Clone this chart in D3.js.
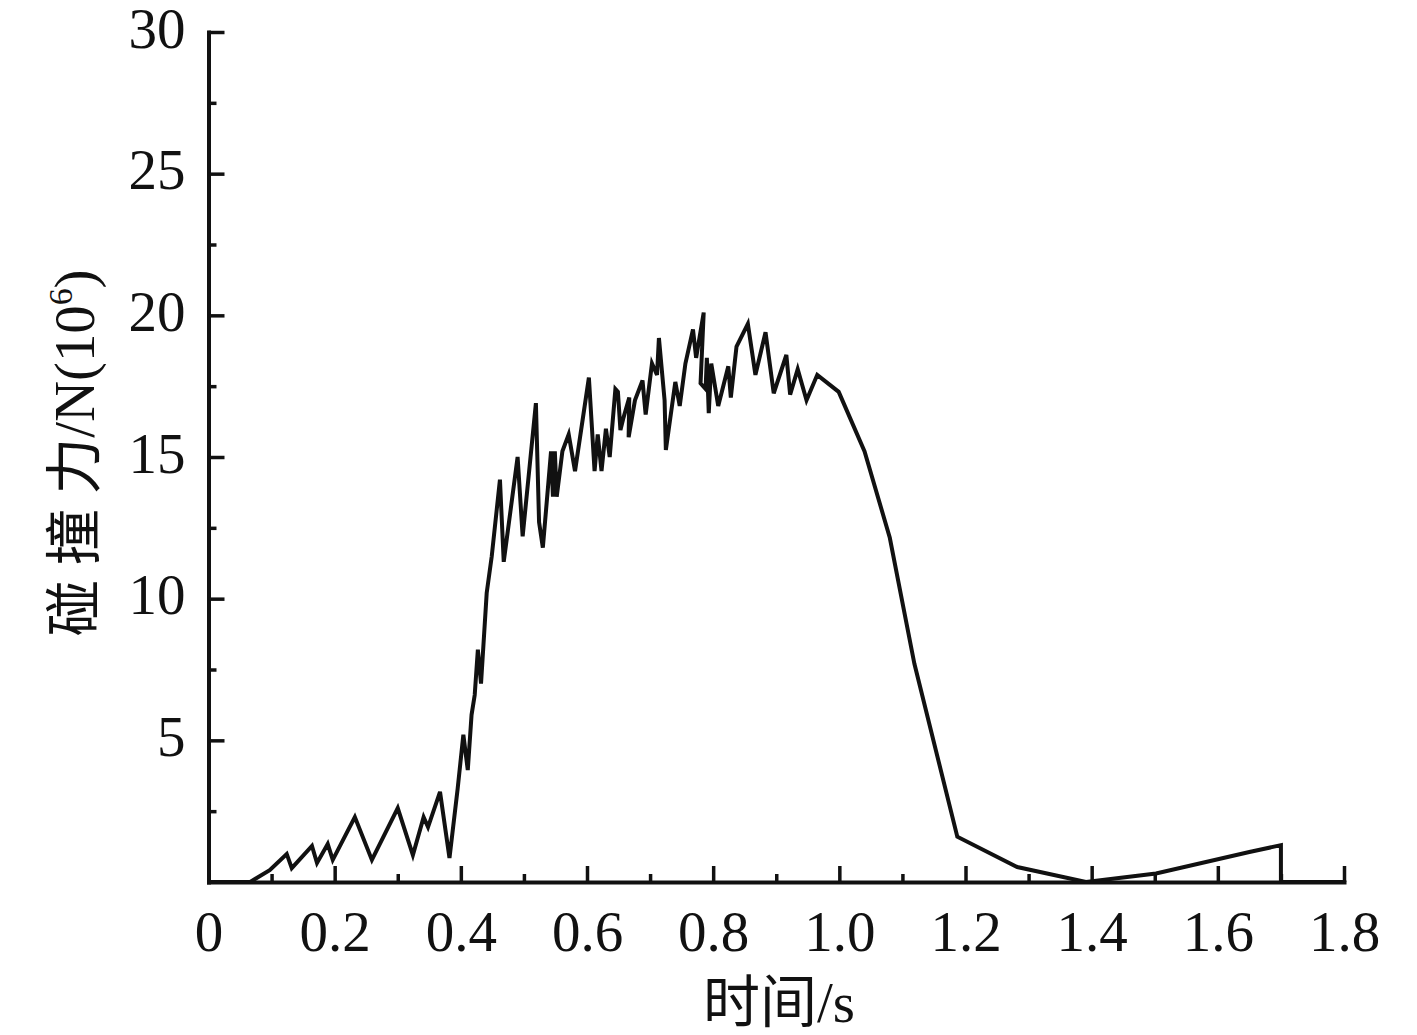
<!DOCTYPE html>
<html>
<head>
<meta charset="utf-8">
<script src="https://cdn.jsdelivr.net/npm/d3@7"></script>
<style>
  body { margin: 0; background: #fff; }
  svg { display: block; }
  text { font-family: "Liberation Serif", "Noto Sans CJK SC", serif; fill: #111; }
</style>
</head>
<body>
<div data-output></div>
<script>
// time (s) and impact force (10^6 N)
const times = [
  0, 0.066, 0.097, 0.124, 0.132, 0.164, 0.172, 0.189, 0.197, 0.232,
  0.259, 0.300, 0.324, 0.341, 0.348, 0.367, 0.382, 0.395, 0.404, 0.411,
  0.417, 0.422, 0.427, 0.432, 0.441, 0.449, 0.462, 0.468, 0.490, 0.498,
  0.519, 0.524, 0.530, 0.543, 0.546, 0.549, 0.552, 0.561, 0.571, 0.581,
  0.603, 0.612, 0.617, 0.623, 0.630, 0.636, 0.645, 0.649, 0.653, 0.658,
  0.667, 0.666, 0.676, 0.688, 0.693, 0.703, 0.711, 0.714, 0.723, 0.725,
  0.740, 0.747, 0.756, 0.768, 0.773, 0.785, 0.780, 0.788, 0.790, 0.793,
  0.797, 0.808, 0.824, 0.828, 0.837, 0.855, 0.867, 0.883, 0.896, 0.916,
  0.922, 0.934, 0.948, 0.965, 0.999, 1.040, 1.080, 1.119, 1.187, 1.282,
  1.391, 1.502, 1.650, 1.700, 1.700, 1.800
];
const force = [
  0, 0, 0.42, 0.99, 0.49, 1.27, 0.67, 1.34, 0.78, 2.29,
  0.78, 2.61, 0.95, 2.29, 1.94, 3.18, 0.85, 3.3, 5.2, 3.95,
  5.9, 6.6, 8.2, 7.0, 10.2, 11.5, 14.2, 11.3, 15.0, 12.2,
  16.9, 12.7, 11.8, 15.2, 13.6, 15.2, 13.6, 15.2, 15.8, 14.5,
  17.8, 14.5, 15.8, 14.5, 16.0, 15.0, 17.4, 17.3, 15.95, 16.4,
  17.1, 15.7, 17.0, 17.7, 16.5, 18.3, 17.9, 19.2, 17.0, 15.25,
  17.65, 16.8, 18.3, 19.5, 18.5, 20.1, 17.6, 17.4, 18.5, 16.55,
  18.3, 16.8, 18.2, 17.1, 18.9, 19.7, 17.9, 19.4, 17.25, 18.6,
  17.2, 18.1, 17.0, 17.9, 17.3, 15.2, 12.15, 7.7, 1.6, 0.53,
  0.0, 0.3, 1.06, 1.3, 0, 0
];

const xTicks = [0, 0.2, 0.4, 0.6, 0.8, 1.0, 1.2, 1.4, 1.6, 1.8];
const xTickLabels = ['0', '0.2', '0.4', '0.6', '0.8', '1.0', '1.2', '1.4', '1.6', '1.8'];
const xMinor = [0.1, 0.3, 0.5, 0.7, 0.9, 1.1, 1.3, 1.5, 1.7];
const yTicks = [5, 10, 15, 20, 25, 30];
const yMinor = [2.5, 7.5, 12.5, 17.5, 22.5, 27.5];

const xTitle = '时间/s';

const SIZE = { WIDTH: 1417, HEIGHT: 1035 };
const plot = { left: 208.5, right: 1344, top: 32, bottom: 882 };

const svg = d3.select('[data-output]').append('svg')
  .attr('width', SIZE.WIDTH)
  .attr('height', SIZE.HEIGHT);

const x = d3.scaleLinear().domain([0, 1.8]).range([plot.left, plot.right]);
const y = d3.scaleLinear().domain([0, 30]).range([plot.bottom, plot.top]);

const data = times.map((t, i) => ({ x: t, y: force[i] }));

const line = d3.line()
  .x(d => x(d.x))
  .y(d => y(d.y));

svg.append('path')
  .datum(data)
  .attr('fill', 'none')
  .attr('stroke', '#111')
  .attr('stroke-width', 4)
  .attr('stroke-linejoin', 'miter')
  .attr('d', line);

// minor ticks first, then major axes on top
svg.append('g')
  .attr('transform', `translate(0, ${plot.bottom})`)
  .call(d3.axisBottom(x).tickValues(xMinor).tickSize(-8).tickSizeOuter(0).tickFormat(''))
  .call(g => g.select('.domain').remove());

svg.append('g')
  .attr('transform', `translate(${plot.left}, 0)`)
  .call(d3.axisLeft(y).tickValues(yMinor).tickSize(-8).tickSizeOuter(0).tickFormat(''))
  .call(g => g.select('.domain').remove());

const xAxis = svg.append('g')
  .attr('transform', `translate(0, ${plot.bottom})`)
  .call(d3.axisBottom(x)
    .tickValues(xTicks)
    .tickSize(-16)
    .tickSizeOuter(0)
    .tickFormat((d, i) => xTickLabels[i]));

xAxis.selectAll('text')
  .attr('y', 69)
  .attr('dy', null)
  .attr('font-size', 57);

const yAxis = svg.append('g')
  .attr('transform', `translate(${plot.left}, 0)`)
  .call(d3.axisLeft(y)
    .tickValues(yTicks)
    .tickSize(-16)
    .tickSizeOuter(0)
    .tickPadding(23)
    .tickFormat(d3.format('d')));

yAxis.selectAll('text')
  .attr('dy', 15)
  .attr('font-size', 57);

svg.selectAll('.domain')
  .attr('stroke', '#111')
  .attr('stroke-width', 4)
  .attr('stroke-linecap', 'square');
svg.selectAll('.tick line')
  .attr('stroke', '#111')
  .attr('stroke-width', 3.5);
svg.selectAll('.tick text')
  .attr('fill', '#111')
  .attr('font-family', '"Liberation Serif", serif');

// axis titles
svg.append('text')
  .attr('x', 779)
  .attr('y', 1022)
  .attr('text-anchor', 'middle')
  .attr('font-size', 57)
  .text(xTitle);

const yTitle = svg.append('text')
  .attr('transform', 'translate(94, 453) rotate(-90)')
  .attr('text-anchor', 'middle')
  .attr('font-size', 57)
  .attr('textLength', 367)
  .attr('lengthAdjust', 'spacingAndGlyphs');
yTitle.append('tspan').text('碰 撞 力/N(10');
yTitle.append('tspan').attr('font-size', 34).attr('dy', -22).text('6');
yTitle.append('tspan').attr('dy', 22).text(')');
</script>
</body>
</html>
